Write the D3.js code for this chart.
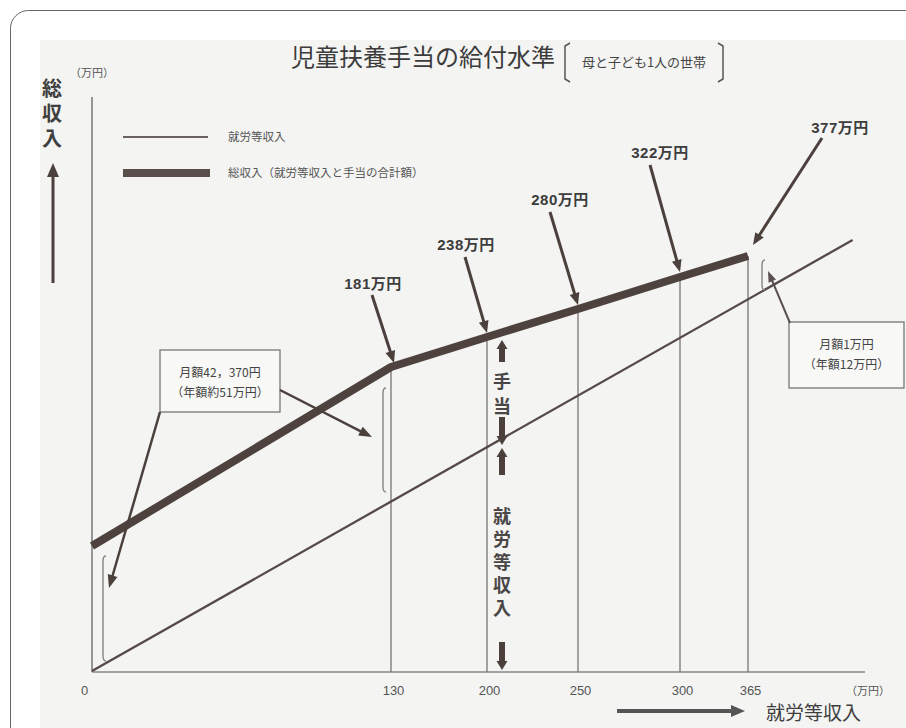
<!DOCTYPE html>
<meta charset="utf-8">
<head>
  <title>児童扶養手当の給付水準</title>
  <script src="https://d3js.org/d3.v7.min.js"></script>
  <style>
    body { margin: 0; background: #fff; }
    text { font-family: "Noto Sans CJK JP", "Liberation Sans", sans-serif; }
  </style>
</head>
<body>
  <div id="my_dataviz"></div>
  <script>
    // income on the x axis (万円) and the total income at those points (万円)
    var incomeTicks = [0, 130, 200, 250, 300, 365];
    var totalIncome = [51, 181, 238, 280, 322, 377];
    var workIncomeEnd = 465;
    var legendLabels = ["就労等収入", "総収入（就労等収入と手当の合計額）"];
    var noteLow = ["月額42，370円", "（年額約51万円）"];
    var noteHigh = ["月額1万円", "（年額12万円）"];

    var W = 906, H = 728;
    var ink = "#4b403c";

    var svg = d3.select("#my_dataviz")
      .append("svg")
      .attr("width", W)
      .attr("height", H);

    // page frame + scanned sheet
    svg.append("rect")
      .attr("x", 10.5).attr("y", 10.5)
      .attr("width", 940).attr("height", 760)
      .attr("rx", 18)
      .attr("fill", "#fff")
      .attr("stroke", "#666");
    svg.append("rect")
      .attr("x", 40).attr("y", 40)
      .attr("width", W - 40).attr("height", H - 40)
      .attr("fill", "#f4f4f3");

    // schematic scales: the chart is not drawn to scale, so map each known value
    var x = d3.scaleLinear()
      .domain(incomeTicks)
      .range([92, 391, 487, 578, 680, 748]);
    var yWork = d3.scaleLinear()
      .domain(incomeTicks)
      .range([671, 502, 448, 396, 339, 300]);
    var yTotal = d3.scaleLinear()
      .domain(totalIncome)
      .range([546, 367, 337, 309, 277, 256]);
    var axisY = 672;

    var points = incomeTicks.map(function (v, i) { return { inc: v, tot: totalIncome[i] }; });

    function arrow(g, x1, y1, x2, y2, w, hl, hw, col) {
      var dx = x2 - x1, dy = y2 - y1, len = Math.sqrt(dx * dx + dy * dy);
      var ux = dx / len, uy = dy / len;
      var bx = x2 - ux * hl, by = y2 - uy * hl;
      g.append("line")
        .attr("x1", x1).attr("y1", y1).attr("x2", bx + ux).attr("y2", by + uy)
        .attr("stroke", col || ink).attr("stroke-width", w);
      g.append("path")
        .attr("d", "M" + x2 + "," + y2 +
          "L" + (bx - uy * hw / 2) + "," + (by + ux * hw / 2) +
          "L" + (bx + uy * hw / 2) + "," + (by - ux * hw / 2) + "Z")
        .attr("fill", col || ink);
    }

    function vText(str, tx, ty, size, gap, col) {
      svg.append("text")
        .attr("x", tx).attr("y", ty)
        .style("writing-mode", "vertical-rl")
        .style("font-size", size + "px").style("font-weight", "bold")
        .style("letter-spacing", gap + "px")
        .attr("fill", col)
        .text(str);
    }

    // axes
    svg.append("line")
      .attr("x1", x(0)).attr("y1", 97).attr("x2", x(0)).attr("y2", axisY)
      .attr("stroke", "#777").attr("stroke-width", 1.5);
    svg.append("line")
      .attr("x1", x(0)).attr("y1", axisY).attr("x2", 865).attr("y2", axisY)
      .attr("stroke", "#888").attr("stroke-width", 1.5);

    var xAxis = svg.append("g")
      .attr("transform", "translate(0," + axisY + ")")
      .call(d3.axisBottom(x).tickValues(incomeTicks).tickSize(0).tickPadding(14).tickFormat(d3.format("d")));
    xAxis.select(".domain").remove();
    xAxis.selectAll("text")
      .style("font-family", "'Liberation Sans Narrow', 'Liberation Sans', sans-serif")
      .style("font-size", "13px")
      .attr("fill", "#555")
      .attr("dx", function (d) { return d === 0 ? -8 : 2; });

    // vertical guides at each income tick
    svg.append("g").selectAll("line")
      .data(points.slice(1))
      .enter().append("line")
      .attr("x1", function (d) { return x(d.inc); })
      .attr("x2", function (d) { return x(d.inc); })
      .attr("y1", function (d) { return yTotal(d.tot); })
      .attr("y2", axisY)
      .attr("stroke", "#7a7474").attr("stroke-width", 1.3);

    // work income line (thin)
    svg.append("path")
      .datum([0, workIncomeEnd])
      .attr("d", d3.line().x(function (d) { return x(d); }).y(function (d) { return yWork(d); }))
      .attr("fill", "none").attr("stroke", "#554a47").attr("stroke-width", 2.3);

    // total income line (thick)
    svg.append("path")
      .datum(points)
      .attr("d", d3.line().x(function (d) { return x(d.inc); }).y(function (d) { return yTotal(d.tot); }))
      .attr("fill", "none").attr("stroke", "#4e423e").attr("stroke-width", 8)
      .attr("stroke-linejoin", "round");

    // allowance brackets
    var brackets = [
      { inc: 0, tot: 51, dx: 11, top: 10, bot: 10 },
      { inc: 130, tot: 181, dx: -8, top: 21, bot: 10 },
      { inc: 365, tot: 377, dx: 14, top: 4, bot: 10 }
    ];
    brackets.forEach(function (b) {
      var bx = x(b.inc) + b.dx, y1 = yTotal(b.tot) + b.top, y2 = yWork(b.inc) - b.bot;
      svg.append("path")
        .attr("d", "M" + (bx + 3) + "," + y1 + "Q" + bx + "," + y1 + " " + bx + "," + (y1 + 5) +
          "L" + bx + "," + (y2 - 5) + "Q" + bx + "," + y2 + " " + (bx + 3) + "," + y2)
        .attr("fill", "none").attr("stroke", "#8a8484").attr("stroke-width", 1.4);
    });

    // value callouts
    var callouts = [
      { lx: -18, ly: -84, sx: -1, sy: 12, ex: 3, ey: -4 },
      { lx: -21, ly: -93, sx: -1, sy: 13, ex: 0, ey: -4 },
      { lx: -18, ly: -110, sx: -10, sy: 13, ex: 0, ey: -4 },
      { lx: -20, ly: -125, sx: -10, sy: 13, ex: 0, ey: -5 },
      { lx: 92, ly: -129, sx: -18, sy: 11, ex: 5, ey: -11 }
    ];
    var ann = svg.append("g");
    points.slice(1).forEach(function (d, i) {
      var c = callouts[i], px = x(d.inc), py = yTotal(d.tot);
      var tx = px + c.lx, ty = py + c.ly;
      ann.append("text")
        .attr("x", tx).attr("y", ty + 6)
        .attr("text-anchor", "middle")
        .style("font-family", "'Liberation Sans', 'Noto Sans CJK JP', sans-serif")
        .style("font-size", "15px").style("font-weight", "bold")
        .style("letter-spacing", "0.5px")
        .attr("fill", "#3d3d3d")
        .text(d.tot + "万円");
      arrow(ann, tx + c.sx, ty + c.sy, px + c.ex, py + c.ey, 3, 12, 10);
    });

    // note boxes
    function noteBox(lines, bx, by, bw, bh) {
      svg.append("rect")
        .attr("x", bx).attr("y", by).attr("width", bw).attr("height", bh)
        .attr("fill", "#f8f8f7").attr("stroke", "#777").attr("stroke-width", 1.3);
      lines.forEach(function (t, i) {
        svg.append("text")
          .attr("x", bx + bw / 2).attr("y", by + 27 + i * 20)
          .attr("text-anchor", "middle")
          .style("font-size", "12px").attr("fill", "#444")
          .text(t);
      });
    }
    noteBox(noteLow, 160, 350, 120, 62);
    noteBox(noteHigh, 789, 322, 115, 66);
    arrow(svg, 280, 390, 372, 437, 2.5, 13, 10);
    arrow(svg, 160, 412, 109, 588, 2.5, 13, 10);
    arrow(svg, 790, 323, 768, 271, 2, 11, 8, "#5a5050");

    // central span arrows & labels
    var cx = x(200) + 15;
    arrow(svg, cx, 362, cx, 340, 6, 9, 11);
    arrow(svg, cx, 417, cx, 445, 6, 9, 11);
    arrow(svg, cx, 475, cx, 448, 6, 9, 11);
    arrow(svg, cx, 642, cx, 670, 6, 9, 11);
    vText("手当", cx, 372, 18, 7, "#4a4646");
    vText("就労等収入", cx, 507, 18, 5, "#4a4646");

    // y-axis title
    vText("総収入", 52, 78, 20, 5, "#3f3f3f");
    arrow(svg, 53, 283, 53, 163, 3, 14, 12);
    svg.append("text").attr("x", 92).attr("y", 77).attr("text-anchor", "middle")
      .style("font-size", "11px").attr("fill", "#555").text("（万円）");

    // x-axis title
    arrow(svg, 617, 711, 745, 711, 4, 14, 12, "#555");
    svg.append("text").attr("x", 766).attr("y", 720)
      .style("font-size", "19px").attr("fill", "#3f3f3f").text("就労等収入");
    svg.append("text").attr("x", 868).attr("y", 695).attr("text-anchor", "middle")
      .style("font-size", "11px").attr("fill", "#555").text("（万円）");

    // legend
    svg.append("line").attr("x1", 123).attr("x2", 208).attr("y1", 137).attr("y2", 137)
      .attr("stroke", "#6a6262").attr("stroke-width", 2.2);
    svg.append("line").attr("x1", 123).attr("x2", 210).attr("y1", 173).attr("y2", 173)
      .attr("stroke", "#5a4e4a").attr("stroke-width", 8);
    legendLabels.forEach(function (t, i) {
      svg.append("text").attr("x", 228).attr("y", 141 + i * 36)
        .style("font-size", "11.5px").attr("fill", "#555").text(t);
    });

    // title
    svg.append("text").attr("x", 291).attr("y", 66)
      .style("font-size", "24px").attr("fill", "#3c3c3c")
      .attr("textLength", 264).attr("lengthAdjust", "spacingAndGlyphs")
      .text("児童扶養手当の給付水準");
    svg.append("path").attr("d", "M570,43 L565,46 L565,79 L570,82")
      .attr("fill", "none").attr("stroke", "#555").attr("stroke-width", 1.5);
    svg.append("path").attr("d", "M718,43 L723,46 L723,79 L718,82")
      .attr("fill", "none").attr("stroke", "#555").attr("stroke-width", 1.5);
    svg.append("text").attr("x", 644).attr("y", 67).attr("text-anchor", "middle")
      .style("font-size", "13px").attr("fill", "#444")
      .text("母と子ども1人の世帯");
  </script>
</body>
</html>
